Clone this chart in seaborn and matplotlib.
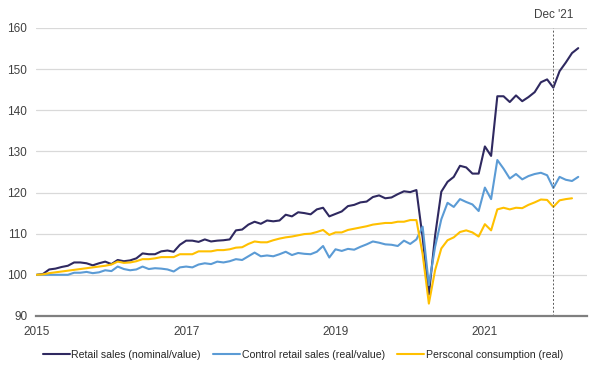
import pandas as pd
import numpy as np
import matplotlib
matplotlib.use('Agg')
import matplotlib.pyplot as plt
import seaborn as sns

# dados mensais, jan/2015 = 100
retail = [100.0, 100.2, 101.3, 101.5, 101.9, 102.2, 103.0, 103.0, 102.8, 102.3,
          102.8, 103.2, 102.6, 103.6, 103.3, 103.5, 104.0, 105.2, 105.0, 105.0,
          105.7, 105.9, 105.6, 107.3, 108.3, 108.3, 108.0, 108.6, 108.1, 108.3,
          108.4, 108.6, 110.8, 111.0, 112.2, 112.9, 112.4, 113.2, 113.0, 113.2,
          114.6, 114.2, 115.2, 115.0, 114.7, 115.9, 116.3, 114.2, 114.8, 115.4,
          116.7, 117.0, 117.6, 117.8, 118.9, 119.3, 118.6, 118.8, 119.6, 120.3,
          120.1, 120.6, 109.0, 95.2, 109.5, 120.2, 122.6, 123.8, 126.5, 126.1,
          124.6, 124.6, 131.2, 128.9, 143.4, 143.4, 142.0, 143.6, 142.2, 143.2,
          144.4, 146.8, 147.5, 145.5, 149.5, 151.6, 153.9, 155.1]

control = [100.0, 100.0, 100.0, 100.0, 100.0, 100.0, 100.5, 100.5, 100.7, 100.4,
           100.6, 101.1, 100.9, 102.0, 101.4, 101.1, 101.3, 102.0, 101.4, 101.6,
           101.5, 101.3, 100.8, 101.8, 102.0, 101.8, 102.5, 102.8, 102.6, 103.2,
           103.0, 103.3, 103.8, 103.6, 104.5, 105.4, 104.5, 104.7, 104.5, 105.0,
           105.6, 104.8, 105.3, 105.1, 105.0, 105.6, 107.0, 104.2, 106.2, 105.8,
           106.3, 106.1, 106.8, 107.4, 108.1, 107.8, 107.4, 107.3, 107.0, 108.3,
           107.5, 108.6, 111.7, 97.5, 106.8, 113.5, 117.5, 116.5, 118.4, 117.7,
           117.1, 115.5, 121.2, 118.4, 127.9, 125.8, 123.4, 124.5, 123.2, 124.0,
           124.5, 124.8, 124.2, 121.1, 123.8, 123.1, 122.8, 123.8]

consumption = [100.0, 100.1, 100.4, 100.6, 100.8, 101.0, 101.2, 101.4, 101.6, 101.8,
               102.0, 102.2, 102.5, 103.2, 102.9, 103.0, 103.3, 103.8, 103.8, 104.0,
               104.3, 104.3, 104.3, 105.0, 105.0, 105.0, 105.7, 105.7, 105.7, 106.0,
               106.0, 106.2, 106.6, 106.7, 107.5, 108.1, 107.9, 107.9, 108.4, 108.8,
               109.1, 109.3, 109.6, 109.9, 110.0, 110.4, 110.9, 109.7, 110.3, 110.3,
               110.9, 111.2, 111.5, 111.8, 112.2, 112.4, 112.6, 112.6, 112.9, 112.9,
               113.3, 113.3, 105.0, 93.0, 101.1, 106.4, 108.4, 109.1, 110.4, 110.8,
               110.3, 109.3, 112.3, 110.8, 115.9, 116.3, 115.9, 116.3, 116.2, 117.0,
               117.6, 118.3, 118.2, 116.5, 118.1, 118.4, 118.6]

series_names = ['Retail sales (nominal/value)', 'Control retail sales (real/value)',
                'Persconal consumption (real)']
cores = ['#2f2960', '#5b9bd5', '#ffc000']
anos = ['2015', '2017', '2019', '2021']
ano_idx = [0, 24, 48, 72]
marca_idx = 83
marca_txt = "Dec '21"

frames = []
for nome, vals in zip(series_names, [retail, control, consumption]):
    frames.append(pd.DataFrame({'mes': np.arange(len(vals)), 'valor': vals, 'serie': nome}))
df = pd.concat(frames, ignore_index=True)

sns.set_theme(style='white')
plt.rcParams['font.family'] = ['Liberation Sans', 'DejaVu Sans']
plt.rcParams['font.size'] = 8

fig = plt.figure(figsize=(6.02, 3.73), dpi=100)
ax = fig.add_axes([0.059, 0.153, 0.916, 0.772])

sns.lineplot(data=df, x='mes', y='valor', hue='serie', palette=cores,
             hue_order=series_names, linewidth=1.5, ax=ax)

ax.set_ylim(90, 160)
ax.set_xlim(-0.2, 88.4)
ax.set_yticks(range(90, 161, 10))
ax.yaxis.grid(True, color='#d9d9d9', linewidth=0.9)
ax.set_axisbelow(True)
ax.set_xticks(ano_idx)
ax.set_xticklabels(anos)
ax.tick_params(axis='both', length=0, colors='#404040', labelsize=8.5)
ax.tick_params(axis='y', pad=6)
ax.tick_params(axis='x', pad=7)
ax.set_xlabel('')
ax.set_ylabel('')
for s in ['top', 'right', 'left']:
    ax.spines[s].set_visible(False)
ax.spines['bottom'].set_color('#7f7f7f')
ax.spines['bottom'].set_linewidth(1.6)

ax.axvline(marca_idx, color='#595959', linestyle=(0, (2, 2)), linewidth=0.7)
ax.text(marca_idx, 163.2, marca_txt, ha='center', va='center', color='#404040',
        fontsize=8.5, clip_on=False)

ax.legend(loc='center', bbox_to_anchor=(0.503, 0.048), bbox_transform=fig.transFigure,
          ncol=3, frameon=False, handlelength=2.6, handletextpad=0.1,
          columnspacing=1.2, fontsize=7.55)

fig.savefig('out.png', dpi=100)
